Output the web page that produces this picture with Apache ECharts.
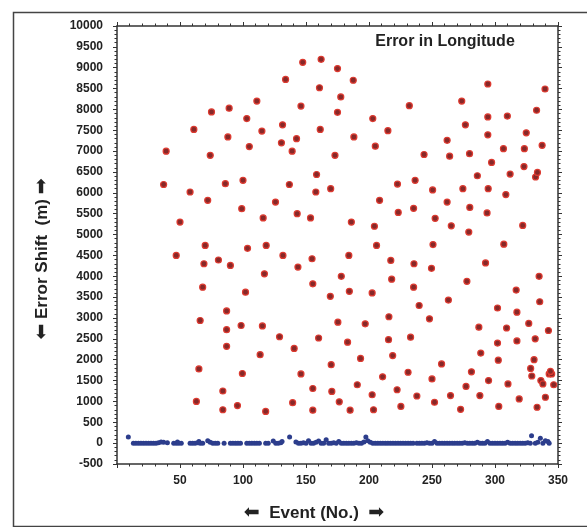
<!DOCTYPE html>
<html>
<head>
<meta charset="utf-8">
<script src="https://cdn.jsdelivr.net/npm/echarts@6/dist/echarts.min.js"></script>
<style>
  html, body { margin: 0; padding: 0; background: #fff; }
  #chart { width: 587px; height: 527px; }
</style>
</head>
<body>
<div id="chart"></div>
<script>
// error before correction (event no., shift in m)
var redPoints = [
  [37, 6200], [39, 7000], [50, 5300], [47, 4500], [58, 6020], [61, 7520], [63, 1000], [65, 1780],
  [66, 2940], [68, 3740], [69, 4300], [70, 4740], [72, 5820], [74, 6900], [75, 7940], [80.5, 4390],
  [84, 1250], [84, 800], [86, 6220], [87, 2720], [87, 3170], [87, 2320], [88, 7340], [89, 8030],
  [90, 4260], [95.6, 900], [98.5, 2820], [99, 5620], [99.5, 1670], [100, 6300], [102, 3620], [103, 7780],
  [103.6, 4670], [105, 7110], [111, 8200], [113.6, 2120], [115, 7480], [115.4, 2810], [116, 5400], [117, 4060],
  [118, 760], [118.4, 4740], [129, 2550], [130.5, 7200], [131.4, 7630], [131.7, 4500], [125.8, 5780], [133.8, 8720],
  [136.8, 6200], [139, 7000], [139.4, 970], [140.6, 2270], [142.5, 7300], [143, 5500], [143.6, 4220], [146, 1660],
  [146, 8080], [147.4, 9130], [153.6, 5400], [154.8, 4420], [155.4, 1310], [155.4, 790], [155.4, 3820], [157.8, 6020],
  [158.4, 6440], [160, 2520], [160.7, 8520], [161.3, 7520], [162, 9200], [169.3, 3520], [169.6, 6100], [170, 1880],
  [170.5, 1240], [173, 6900], [175, 7930], [175, 8980], [175.3, 2900], [176.4, 990], [178, 4000], [177.6, 8300],
  [183, 2420], [184, 4500], [184.4, 3640], [185, 790], [186, 5300], [187.5, 8700], [188, 7340], [190.7, 1400],
  [193.3, 2030], [197, 2860], [202.5, 3600], [202.5, 1160], [203, 7780], [203.6, 800], [204.3, 5200], [205, 7120],
  [206, 4740], [208.4, 5820], [210.8, 1590], [215, 7490], [215.5, 2480], [215.8, 3030], [217.3, 4380], [218, 3930],
  [218.8, 2100], [222.3, 1280], [222.6, 6210], [223.2, 5530], [225.3, 880], [231, 1700], [232, 8090], [233, 2540],
  [235.4, 3740], [235.7, 4300], [235.4, 5630], [236.6, 6300], [238, 1130], [239.8, 3300], [243.7, 6920], [248, 2980],
  [249.6, 4190], [250, 1540], [250.5, 6070], [250.8, 4760], [252, 980], [252.5, 5390], [257.6, 1900], [262, 7260],
  [262, 5780], [263, 3430], [264, 6880], [264.7, 1140], [265.3, 5210], [272.7, 810], [273.6, 8200], [274.5, 6100],
  [276.5, 7630], [277, 1360], [277.7, 3880], [279.2, 5060], [279.8, 6940], [280, 5650], [281.3, 1710], [286, 6410],
  [287.2, 2780], [288, 1140], [288.7, 2160], [292.5, 4320], [293.7, 5520], [294.3, 8610], [294.3, 7820], [294.3, 7390],
  [294.6, 6100], [294.9, 1500], [297.3, 6730], [302, 3240], [302, 2400], [302.6, 1990], [303, 880], [306.7, 7060],
  [307, 4770], [308.6, 5960], [309.2, 2760], [309.8, 7840], [310.3, 1420], [312, 6450], [316.8, 3670], [317.4, 3140],
  [317.4, 2450], [319.2, 1060], [322, 5220], [323, 6630], [323.3, 7060], [324.8, 7440], [326.8, 2870], [328.3, 1790],
  [329.2, 1610], [331, 2000], [331.9, 2500], [332.2, 6380], [333.7, 6490], [333, 7980], [333.4, 860], [335, 4000],
  [335.5, 3390], [336.4, 1500], [338, 1420], [337.4, 7140], [339.7, 8490], [340, 1100], [342.4, 2700], [343, 1660],
  [345, 1660], [344, 1720], [346.6, 1400]
];

// error after correction
var bluePoints = [
  [9, 150], [13, 0], [15, 0], [17, 0], [19, 0], [21, 0], [23, 0], [25, 0], [27, 0], [29, 0], [31, 0], [33, 10],
  [35, 30], [37, 20], [40, 10], [45, 0], [47, 0], [48, 30], [49, 0], [51, 0],
  [58, 0], [60, 0], [62, 0], [64, 10], [65, 40], [66, 0], [68, 0], [72, 60], [74, 20], [76, 0], [78, 0], [80, 0],
  [85, 0], [90, 0], [92, 0], [94, 0], [96, 0], [98, 0],
  [103, 0], [105, 0], [107, 0], [109, 0], [111, 0], [113, 0], [118, 0], [120, 0],
  [124, 50], [126, 0], [128, 0], [130, 10], [131, 40], [137, 150], [142, 30], [144, 0], [146, 0],
  [148, 10], [150, 0], [152, 60], [154, 0], [156, 0], [158, 20], [160, 50], [162, 0], [164, 0], [166, 80],
  [168, 0], [170, 0], [172, 10], [174, 0], [176, 40], [178, 0], [180, 0], [182, 0], [184, 0], [186, 0],
  [188, 0], [190, 10], [192, 0], [194, 0], [196, 30], [197.5, 150], [199, 60], [201, 20], [203, 0], [205, 0],
  [207, 0], [209, 0], [211, 0], [213, 0], [215, 0], [217, 0], [219, 0], [221, 0], [223, 0], [225, 0],
  [227, 0], [229, 0], [231, 0], [233, 0], [235, 0],
  [238, 0], [240, 0], [242, 0], [244, 0], [246, 10], [248, 0], [250, 0], [252, 40], [254, 0], [256, 0],
  [258, 0], [260, 0], [262, 0], [264, 0], [266, 0], [268, 0], [270, 0], [272, 0], [274, 0],
  [276, 10], [278, 0], [280, 0], [282, 0], [284, 0], [286, 20], [288, 0], [290, 0], [292, 0], [294, 40],
  [296, 0], [298, 0], [300, 0], [302, 0], [304, 0], [306, 0], [308, 0], [310, 20], [312, 0], [314, 0],
  [316, 0], [318, 0], [320, 0], [322, 0], [324, 0], [326, 10], [328, 0], [329, 180],
  [332, 0], [334, 20], [336, 120], [338, 0], [340, 60], [342, 40], [343, 0]
];

var xTicks = [0, 350, 50];
var yTicks = [-500, 10000, 500];

var chart = echarts.init(document.getElementById('chart'));

var axisColor = '#333';
var tickFont = { color: '#222', fontSize: 12, fontWeight: 'bold', fontFamily: 'Liberation Sans, Arial, sans-serif' };

function xAxisDef(pos, showLabels) {
  return {
    type: 'value', position: pos, min: xTicks[0], max: xTicks[1], interval: xTicks[2],
    axisLine: { show: true, onZero: false, lineStyle: { color: axisColor, width: 1.5 } },
    axisTick: { show: true, length: 4, lineStyle: { color: axisColor } },
    minorTick: { show: true, splitNumber: 5, length: 2.5, lineStyle: { color: axisColor } },
    axisLabel: Object.assign({ show: showLabels, showMinLabel: false, margin: 11, formatter: function (v) { return String(v); } }, tickFont),
    splitLine: { show: false }
  };
}
function yAxisDef(pos, showLabels) {
  return {
    type: 'value', position: pos, min: yTicks[0], max: yTicks[1], interval: yTicks[2],
    axisLine: { show: true, onZero: false, lineStyle: { color: axisColor, width: 1.5 } },
    axisTick: { show: true, length: 4, lineStyle: { color: axisColor } },
    minorTick: { show: true, splitNumber: 5, length: 2.5, lineStyle: { color: axisColor } },
    axisLabel: Object.assign({ show: showLabels, margin: 14, formatter: function (v) { return String(v); } }, tickFont),
    splitLine: { show: false }
  };
}

var option = {
  backgroundColor: '#fff',
  animation: false,
  grid: { left: 117, right: 29, top: 26, bottom: 63, containLabel: false },
  xAxis: [xAxisDef('bottom', true), xAxisDef('top', false)],
  yAxis: [yAxisDef('left', true), yAxisDef('right', false)],
  graphic: [
    {
      type: 'rect', left: 11, top: 10, silent: true,
      shape: { width: 600, height: 514 },
      style: { fill: null, stroke: '#444', lineWidth: 1.5 }
    },
    {
      type: 'text', x: 445, y: 42, silent: true,
      style: {
        text: 'Error in Longitude', align: 'center', verticalAlign: 'middle',
        fill: '#222', font: 'bold 16px "Liberation Sans", Arial, sans-serif'
      }
    },
    {
      type: 'text', x: 314, y: 513, silent: true,
      style: {
        text: '{a|⬅}  Event (No.)  {a|➡}', align: 'center', verticalAlign: 'middle',
        fill: '#222', font: 'bold 17px "Liberation Sans", Arial, sans-serif',
        rich: { a: { fontSize: 19, fontFamily: 'DejaVu Sans', fill: '#222' } }
      }
    },
    {
      type: 'text', x: 42, y: 259, rotation: Math.PI / 2, silent: true,
      style: {
        text: '{a|⬅} Error Shift  (m) {a|➡}', align: 'center', verticalAlign: 'middle',
        fill: '#222', font: 'bold 17px "Liberation Sans", Arial, sans-serif',
        rich: { a: { fontSize: 19, fontFamily: 'DejaVu Sans', fill: '#222' } }
      }
    }
  ],
  series: [
    {
      name: 'before', type: 'scatter', data: redPoints, symbolSize: 6,
      itemStyle: { color: '#872828', borderColor: '#dd3a30', borderWidth: 1.2, opacity: 1 }
    },
    {
      name: 'after', type: 'scatter', data: bluePoints, symbolSize: 5,
      itemStyle: { color: '#2c3d8c', opacity: 1 }
    }
  ]
};

chart.setOption(option);
</script>
</body>
</html>
